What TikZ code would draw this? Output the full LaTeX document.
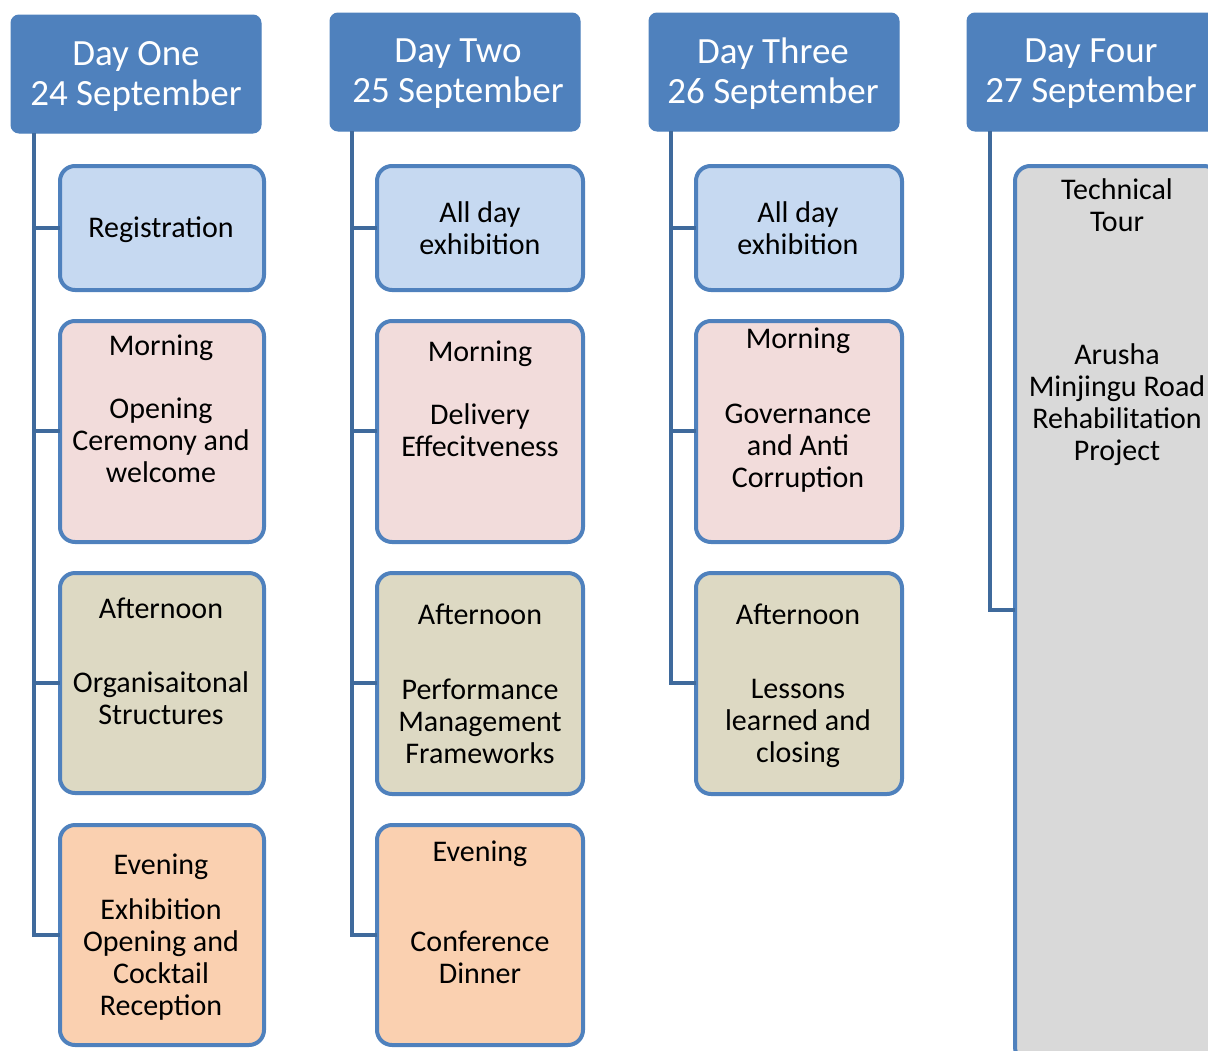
\documentclass[tikz,border=0pt]{standalone}
\usepackage{fontspec}
\setmainfont{Carlito}
\definecolor{hdrblue}{HTML}{4F81BD}
\definecolor{linblue}{HTML}{3F6A9C}
\definecolor{fblue}{HTML}{C6D9F1}
\definecolor{fpink}{HTML}{F2DCDB}
\definecolor{folive}{HTML}{DDD9C3}
\definecolor{forange}{HTML}{FAD0B0}
\definecolor{fgray}{HTML}{D9D9D9}
\tikzset{
  hdr/.style={fill=hdrblue, draw=hdrblue, line width=1pt, rounded corners=8pt, inner sep=0pt},
  hdrtext/.style={text=white, align=center, font=\fontsize{37}{40}\selectfont, inner sep=0pt},
  slot/.style={draw=hdrblue, line width=4pt, rounded corners=15pt, inner sep=0pt},
  slottext/.style={text=black, align=center, font=\fontsize{30}{32}\selectfont, inner sep=0pt},
  conn/.style={draw=linblue, line width=4pt},
}
\begin{document}
\begin{tikzpicture}[x=1pt,y=-1pt]
\useasboundingbox (0,0) rectangle (1208,1050);
\clip (0,0) rectangle (1208,1050);

% headers
\path[hdr] (11,15) rectangle (261,133);
\path[hdr] (330,13) rectangle (580,131);
\path[hdr] (649,13) rectangle (899,131);
\path[hdr] (967,13) rectangle (1217,131);
\node[hdrtext] (t1) at (136,76) {Day One\\24 September};
\node[hdrtext] (t2) at (458,74) {Day Two\\25 September};
\node[hdrtext] (t3) at (773,74) {Day Three\\26 September};
\node[hdrtext] (t4) at (1091,74) {Day Four\\27 September};

% boxes: day one
\draw[slot, fill=fblue]   (60,166) rectangle (264,290);
\coordinate (b11) at (60,228);
\draw[slot, fill=fpink]   (60,321) rectangle (264,542);
\coordinate (b12) at (60,431);
\draw[slot, fill=folive]  (60,573) rectangle (264,793);
\coordinate (b13) at (60,683);
\draw[slot, fill=forange] (60,825) rectangle (264,1045);
\coordinate (b14) at (60,935);

% day two
\draw[slot, fill=fblue]   (377,166) rectangle (583,290);
\coordinate (b21) at (377,228);
\draw[slot, fill=fpink]   (377,321) rectangle (583,542);
\coordinate (b22) at (377,431);
\draw[slot, fill=folive]  (377,573) rectangle (583,794);
\coordinate (b23) at (377,683);
\draw[slot, fill=forange] (377,825) rectangle (583,1045);
\coordinate (b24) at (377,935);

% day three
\draw[slot, fill=fblue]   (696,166) rectangle (902,290);
\coordinate (b31) at (696,228);
\draw[slot, fill=fpink]   (696,321) rectangle (902,542);
\coordinate (b32) at (696,431);
\draw[slot, fill=folive]  (696,573) rectangle (902,794);
\coordinate (b33) at (696,683);

% day four
\draw[slot, fill=fgray]   (1015,166) rectangle (1219,1062);
\coordinate (b41) at (1015,610);

% connectors
\coordinate (v1) at (34,133);
\coordinate (v2) at (352,131);
\coordinate (v3) at (671,131);
\coordinate (v4) at (990,131);
\draw[conn] (v1) |- (b14);
\draw[conn] (v1 |- b11) -- (b11);
\draw[conn] (v1 |- b12) -- (b12);
\draw[conn] (v1 |- b13) -- (b13);
\draw[conn] (v2) |- (b24);
\draw[conn] (v2 |- b21) -- (b21);
\draw[conn] (v2 |- b22) -- (b22);
\draw[conn] (v2 |- b23) -- (b23);
\draw[conn] (v3) |- (b33);
\draw[conn] (v3 |- b31) -- (b31);
\draw[conn] (v3 |- b32) -- (b32);
\draw[conn] (v4) |- (b41);

% texts day one
\node[slottext] (a11) at (161,230) {Registration};
\node[slottext] (a12a) at (161,348) {Morning};
\node[slottext] (a12b) at (161,440) {Opening\\Ceremony and\\welcome};
\node[slottext] (a13a) at (161,608) {Afternoon};
\node[slottext] (a13b) at (161,698) {Organisaitonal\\Structures};
\node[slottext] (a14a) at (161,867) {Evening};
\node[slottext] (a14b) at (161,959) {Exhibition\\Opening and\\Cocktail\\Reception};

% texts day two
\node[slottext] (a21) at (480,228) {All day\\exhibition};
\node[slottext] (a22a) at (480,354) {Morning};
\node[slottext] (a22b) at (480,430) {Delivery\\Effecitveness};
\node[slottext] (a23a) at (480,614) {Afternoon};
\node[slottext] (a23b) at (480,721) {Performance\\Management\\Frameworks};
\node[slottext] (a24a) at (480,854) {Evening};
\node[slottext] (a24b) at (480,957) {Conference\\Dinner};

% texts day three
\node[slottext] (a31) at (798,228) {All day\\exhibition};
\node[slottext] (a32a) at (798,341) {Morning};
\node[slottext] (a32b) at (798,448) {Governance\\and Anti\\Corruption};
\node[slottext] (a33a) at (798,614) {Afternoon};
\node[slottext] (a33b) at (798,723) {Lessons\\learned and\\closing};

% texts day four
\node[slottext] (a41a) at (1117,205) {Technical\\Tour};
\node[slottext] (a41b) at (1117,405) {Arusha\\Minjingu Road\\Rehabilitation\\Project};
\end{tikzpicture}
\end{document}
